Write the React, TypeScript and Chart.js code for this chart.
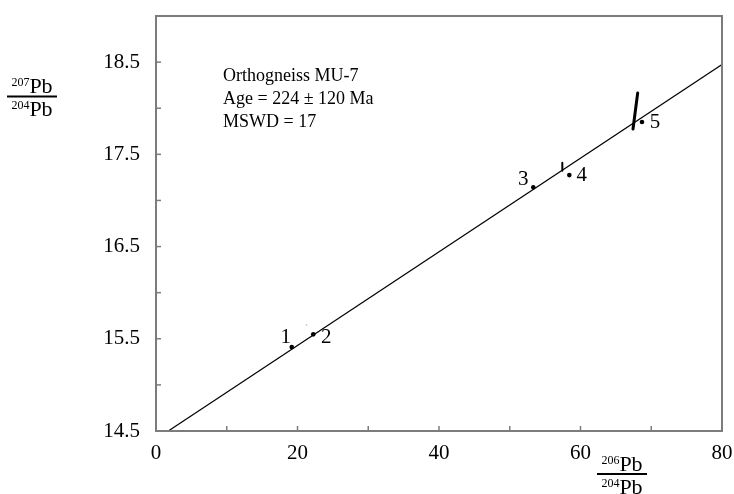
import React, { useEffect, useRef } from 'react';
import { Chart, registerables } from 'chart.js';

Chart.register(...registerables);

// ---- data ----
const sampleNames = ['1', '2', '3', '4', '5'];
const ratio206 = [19.18, 22.23, 53.33, 58.42, 68.69];
const ratio207 = [15.41, 15.548, 17.142, 17.275, 17.85];

const isochronX = [1.74, 80];
const isochronY = [14.5, 18.475];

const ellipse2X = [21.28, 21.3];
const ellipse2Y = [15.645, 15.655];
const ellipse4X = [57.43, 57.43];
const ellipse4Y = [17.322, 17.408];
const ellipse5X = [67.42, 68.08];
const ellipse5Y = [17.774, 18.164];

const xLabelValues = [0, 20, 40, 60, 80];
const yLabelValues = [14.5, 15.5, 16.5, 17.5, 18.5];

const annotationLines = ['Orthogneiss MU-7', 'Age = 224 ± 120 Ma', 'MSWD = 17'];
const annotationAnchor = { x: 9.47, y: 18.3 };

// ---- style ----
const SERIF = '"Liberation Serif", "Times New Roman", serif';
const AXIS_GREY = '#7c7c7c';
const labelOffsets: [number, number][] = [
  [-6, -10],
  [13, 3],
  [-10, -8],
  [12.5, 0],
  [13, 0],
];

const pts = (xs: number[], ys: number[]) => xs.map((x, i) => ({ x, y: ys[i] }));
const near = (list: number[], v: number) => list.some((l) => Math.abs(l - v) < 1e-6);

function drawIsotope(ctx: CanvasRenderingContext2D, mass: string, cx: number, baseline: number) {
  ctx.textAlign = 'left';
  ctx.textBaseline = 'alphabetic';
  ctx.font = `12px ${SERIF}`;
  const wm = ctx.measureText(mass).width;
  ctx.font = `22px ${SERIF}`;
  const wp = ctx.measureText('Pb').width;
  const x0 = cx - (wm + wp) / 2;
  ctx.font = `12px ${SERIF}`;
  ctx.fillText(mass, x0, baseline - 7);
  ctx.font = `22px ${SERIF}`;
  ctx.fillText('Pb', x0 + wm, baseline);
}

function drawFraction(
  ctx: CanvasRenderingContext2D,
  top: string,
  bottom: string,
  cx: number,
  barY: number,
  barHalf: number
) {
  ctx.fillStyle = '#000';
  drawIsotope(ctx, top, cx, barY - 3.5);
  ctx.strokeStyle = '#000';
  ctx.lineWidth = 2;
  ctx.beginPath();
  ctx.moveTo(cx - barHalf, barY);
  ctx.lineTo(cx + barHalf, barY);
  ctx.stroke();
  drawIsotope(ctx, bottom, cx, barY + 19.5);
}

const decorPlugin = {
  id: 'decor',
  afterDraw(chart: any) {
    const { ctx, chartArea: a, scales } = chart;
    const xs = scales.x;
    const ys = scales.y;
    ctx.save();

    // inward ticks
    ctx.strokeStyle = AXIS_GREY;
    ctx.lineWidth = 1.5;
    xs.ticks.forEach((t: any) => {
      if (t.value <= xs.min || t.value >= xs.max) return;
      const px = xs.getPixelForValue(t.value);
      ctx.beginPath();
      ctx.moveTo(px, a.bottom);
      ctx.lineTo(px, a.bottom - 5);
      ctx.stroke();
    });
    ys.ticks.forEach((t: any) => {
      if (t.value <= ys.min || t.value >= ys.max) return;
      const py = ys.getPixelForValue(t.value);
      ctx.beginPath();
      ctx.moveTo(a.left, py);
      ctx.lineTo(a.left + 5, py);
      ctx.stroke();
    });

    // frame
    ctx.lineWidth = 2;
    ctx.strokeRect(a.left, a.top, a.right - a.left, a.bottom - a.top);

    // annotation block
    ctx.fillStyle = '#000';
    ctx.font = `18px ${SERIF}`;
    ctx.textAlign = 'left';
    ctx.textBaseline = 'alphabetic';
    const ax = xs.getPixelForValue(annotationAnchor.x);
    const ay = ys.getPixelForValue(annotationAnchor.y);
    annotationLines.forEach((line, i) => ctx.fillText(line, ax, ay + i * 23));

    // sample labels
    ctx.font = `21px ${SERIF}`;
    ctx.textAlign = 'center';
    ctx.textBaseline = 'middle';
    sampleNames.forEach((name, i) => {
      const px = xs.getPixelForValue(ratio206[i]);
      const py = ys.getPixelForValue(ratio207[i]);
      const [dx, dy] = labelOffsets[i];
      ctx.fillText(name, px + dx, py + dy);
    });

    // axis titles (fractions)
    drawFraction(ctx, '207', '204', 32, 96.5, 25);
    drawFraction(ctx, '206', '204', 622, 474, 25);

    ctx.restore();
  },
};

export default function App() {
  const canvasRef = useRef<HTMLCanvasElement | null>(null);

  useEffect(() => {
    if (!canvasRef.current) return;
    const chart = new Chart(canvasRef.current, {
      type: 'scatter',
      data: {
        datasets: [
          {
            label: 'Isochron',
            data: pts(isochronX, isochronY),
            showLine: true,
            borderColor: '#000',
            borderWidth: 1.2,
            pointRadius: 0,
          },
          {
            label: 'Ellipse 2',
            data: pts(ellipse2X, ellipse2Y),
            showLine: true,
            borderColor: '#888',
            borderWidth: 1,
            pointRadius: 0,
          },
          {
            label: 'Ellipse 4',
            data: pts(ellipse4X, ellipse4Y),
            showLine: true,
            borderColor: '#000',
            borderWidth: 2,
            borderCapStyle: 'round',
            pointRadius: 0,
          },
          {
            label: 'Ellipse 5',
            data: pts(ellipse5X, ellipse5Y),
            showLine: true,
            borderColor: '#000',
            borderWidth: 3,
            borderCapStyle: 'round',
            pointRadius: 0,
          },
          {
            label: 'Samples',
            data: pts(ratio206, ratio207),
            showLine: false,
            pointRadius: 2.3,
            pointBackgroundColor: '#000',
            pointBorderColor: '#000',
            pointBorderWidth: 0,
          },
        ],
      },
      options: {
        responsive: false,
        animation: false,
        layout: { padding: { left: 0, right: 12, top: 16, bottom: 0 } },
        plugins: {
          legend: { display: false },
          tooltip: { enabled: false },
        },
        scales: {
          x: {
            type: 'linear',
            min: 0,
            max: 80,
            border: { display: false },
            grid: { display: false, drawTicks: false },
            ticks: {
              stepSize: 10,
              autoSkip: false,
              maxRotation: 0,
              padding: 10,
              color: '#000',
              font: { family: SERIF, size: 21 },
              callback: (v: any) => (near(xLabelValues, Number(v)) ? String(v) : ''),
            },
            afterFit: (s: any) => {
              s.height = 63;
              s.paddingLeft = 0;
              s.paddingRight = 0;
            },
          },
          y: {
            type: 'linear',
            min: 14.5,
            max: 19,
            border: { display: false },
            grid: { display: false, drawTicks: false },
            ticks: {
              stepSize: 0.5,
              autoSkip: false,
              padding: 16,
              color: '#000',
              font: { family: SERIF, size: 21 },
              callback: (v: any) => (near(yLabelValues, Number(v)) ? Number(v).toFixed(1) : ''),
            },
            afterFit: (s: any) => {
              s.width = 156;
              s.paddingTop = 0;
              s.paddingBottom = 0;
            },
          },
        },
      },
      plugins: [decorPlugin],
    } as any);
    return () => chart.destroy();
  }, []);

  return (
    <div style={{ position: 'absolute', left: 0, top: 0, width: 734, height: 494, background: '#fff' }}>
      <canvas ref={canvasRef} width={734} height={494} style={{ display: 'block' }} />
    </div>
  );
}
